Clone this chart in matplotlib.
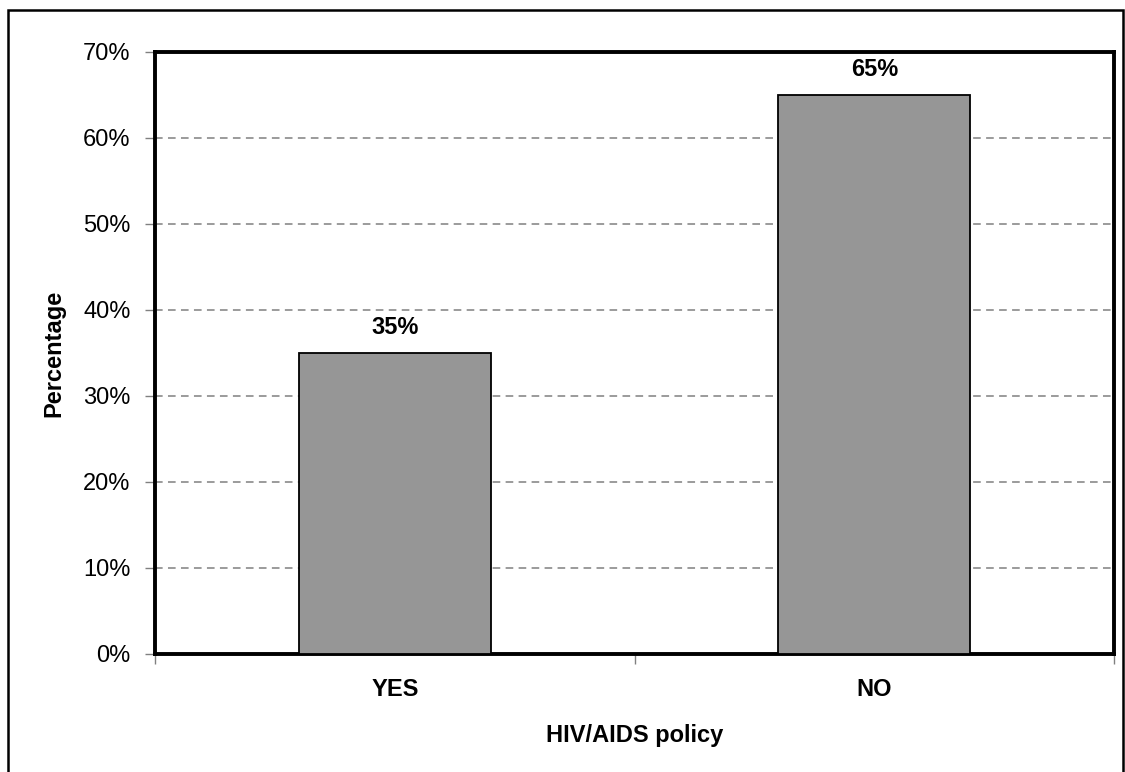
import matplotlib.pyplot as plt
from matplotlib.patches import Rectangle
from matplotlib.ticker import FuncFormatter

categories = ['YES', 'NO']
percentages = [35, 65]
y_ticks = [0, 10, 20, 30, 40, 50, 60, 70]

plt.rcParams['font.family'] = ['Liberation Sans', 'DejaVu Sans']

fig = plt.figure(figsize=(11.25, 7.72), dpi=100)
ax = fig.add_axes([155 / 1125, 1 - 654 / 772, (1114 - 155) / 1125, (654 - 52) / 772])

# frame around the whole chart
fig.patches.append(Rectangle((8 / 1125, -0.02), (1123 - 8) / 1125, 1 - 10 / 772 + 0.02,
                             transform=fig.transFigure, fill=False,
                             edgecolor='black', linewidth=1.8))

x = range(len(categories))
ax.bar(x, percentages, width=0.4, color='#969696', edgecolor='black', linewidth=1.3, zorder=3)

for xi, v in zip(x, percentages):
    ax.annotate(f'{v}%', (xi, v), xytext=(0, 10), textcoords='offset points',
                ha='center', va='bottom', fontsize=17, fontweight='bold')

ax.set_xlim(-0.5, 1.5)
ax.set_ylim(0, 70)
ax.set_yticks(y_ticks)
ax.yaxis.set_major_formatter(FuncFormatter(lambda v, p: f'{v:.0f}%'))
ax.set_xticks([-0.5, 0.5, 1.5])
ax.set_xticklabels([])
ax.set_xticks(list(x), minor=True)
ax.set_xticklabels(categories, minor=True, fontsize=17, fontweight='bold')
ax.tick_params(axis='x', which='minor', length=0, pad=17)
ax.tick_params(axis='x', which='major', length=7, color='#808080', width=1)
ax.tick_params(axis='y', length=7, color='#808080', width=1, labelsize=17, pad=10.5)

ax.yaxis.grid(True, linestyle=(0, (5, 3.5)), color='#808080', linewidth=1.1, zorder=0)
ax.set_axisbelow(True)

for s in ax.spines.values():
    s.set_linewidth(2.8)
    s.set_color('black')

ax.set_xlabel('HIV/AIDS policy', fontsize=17, fontweight='bold', labelpad=17)
ax.set_ylabel('Percentage', fontsize=17, fontweight='bold', labelpad=13)

fig.savefig('out.png', dpi=100)
